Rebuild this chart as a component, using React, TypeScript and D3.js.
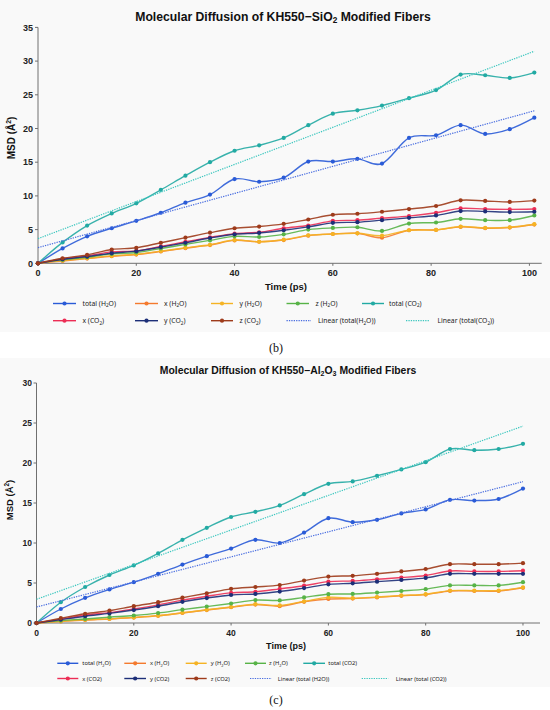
import { useEffect } from "react";
import * as d3 from "d3";

// (b) KH550-SiO2
const timeB = [0, 5, 10, 15, 20, 25, 30, 35, 40, 45, 50, 55, 60, 65, 70, 75.5, 81, 86, 91, 96, 101];
const totalH2OB = [0, 2.2, 4.0, 5.2, 6.3, 7.5, 9.0, 10.2, 12.5, 12.1, 12.7, 15.1, 15.1, 15.5, 14.8, 18.6, 19.0, 20.5, 19.2, 19.9, 21.6];
const xH2OB = [0, 0.35, 0.7, 1.05, 1.3, 1.75, 2.25, 2.7, 3.4, 3.2, 3.45, 4.1, 4.35, 4.45, 3.8, 4.9, 4.95, 5.4, 5.2, 5.3, 5.75];
const yH2OB = [0, 0.4, 0.75, 1.1, 1.35, 1.8, 2.3, 2.75, 3.45, 3.2, 3.5, 4.15, 4.35, 4.45, 4.1, 4.9, 4.95, 5.45, 5.25, 5.35, 5.8];
const zH2OB = [0, 0.5, 0.9, 1.4, 1.6, 2.2, 2.8, 3.4, 4.0, 3.9, 4.3, 5.0, 5.25, 5.35, 4.8, 5.9, 6.05, 6.6, 6.4, 6.4, 7.1];
const totalCO2B = [0, 3.1, 5.6, 7.4, 8.9, 10.9, 13.0, 15.0, 16.7, 17.5, 18.6, 20.5, 22.2, 22.7, 23.4, 24.5, 25.7, 28.0, 27.9, 27.5, 28.3];
const xCO2B = [0, 0.65, 1.1, 1.7, 1.85, 2.5, 3.2, 3.85, 4.4, 4.6, 5.2, 5.6, 6.3, 6.4, 6.7, 7.0, 7.5, 8.15, 8.05, 8.0, 8.05];
const yCO2B = [0, 0.6, 1.0, 1.5, 1.8, 2.4, 3.05, 3.75, 4.3, 4.5, 4.9, 5.4, 6.0, 6.1, 6.4, 6.75, 7.1, 7.75, 7.7, 7.6, 7.65];
const zCO2B = [0, 0.75, 1.25, 2.05, 2.3, 3.05, 3.8, 4.55, 5.2, 5.45, 5.85, 6.5, 7.2, 7.35, 7.65, 8.05, 8.5, 9.35, 9.25, 9.1, 9.3];

// (c) KH550-Al2O3
const timeC = [0, 5, 10, 15, 20, 25, 30, 35, 40, 45, 50, 55, 60, 65, 70, 75, 80, 85, 90, 95, 100];
const totalH2OC = [0, 1.75, 3.15, 4.2, 5.1, 6.15, 7.3, 8.35, 9.3, 10.4, 10.0, 11.3, 13.1, 12.6, 12.9, 13.7, 14.2, 15.4, 15.3, 15.5, 16.8];
const xH2OC = [0, 0.2, 0.38, 0.5, 0.68, 0.9, 1.25, 1.62, 1.97, 2.3, 2.1, 2.65, 3.0, 3.05, 3.2, 3.4, 3.55, 4.0, 4.0, 4.0, 4.4];
const yH2OC = [0, 0.22, 0.4, 0.52, 0.7, 0.92, 1.28, 1.65, 2.0, 2.35, 2.2, 2.7, 3.2, 3.1, 3.25, 3.45, 3.6, 4.05, 4.05, 4.05, 4.45];
const zH2OC = [0, 0.3, 0.5, 0.73, 0.94, 1.24, 1.67, 2.05, 2.44, 2.86, 2.82, 3.2, 3.6, 3.63, 3.8, 4.0, 4.23, 4.7, 4.7, 4.7, 5.1];
const totalCO2C = [0, 2.6, 4.5, 6.0, 7.2, 8.7, 10.4, 11.9, 13.25, 13.9, 14.7, 16.1, 17.4, 17.7, 18.4, 19.2, 20.1, 21.75, 21.6, 21.75, 22.4];
const xCO2C = [0, 0.47, 1.0, 1.3, 1.75, 2.26, 2.86, 3.33, 3.76, 3.9, 4.27, 4.66, 5.17, 5.26, 5.47, 5.68, 5.94, 6.5, 6.45, 6.45, 6.54];
const yCO2C = [0, 0.43, 0.85, 1.2, 1.62, 2.1, 2.65, 3.12, 3.5, 3.63, 3.93, 4.36, 4.83, 4.96, 5.17, 5.38, 5.64, 6.15, 6.15, 6.15, 6.15];
const zCO2C = [0, 0.6, 1.15, 1.54, 2.1, 2.6, 3.16, 3.72, 4.27, 4.5, 4.74, 5.3, 5.8, 5.9, 6.15, 6.45, 6.75, 7.35, 7.35, 7.35, 7.48];

const xTicks = [0, 20, 40, 60, 80, 100];
const yTicksB = [0, 5, 10, 15, 20, 25, 30, 35];
const yTicksC = [0, 5, 10, 15, 20, 25, 30];

const legendB = [
  "total (H_2O)", "x (H_2O)", "y (H_2O)", "z (H_2O)", "total  (CO_2)",
  "x (CO_2)", "y (CO_2)", "z (CO_2)", "Linear (total(H_2O))", "Linear (total(CO_2))",
];
const legendC = [
  "total (H_2O)", "x (H_2O)", "y (H_2O)", "z (H_2O)", "total (CO2)",
  "x (CO2)", "y (CO2)", "z (CO2)", "Linear (total (H2O))", "Linear (total (CO2))",
];

const colors = ["#2a5bd7", "#f47a2e", "#f5b324", "#57b347", "#22aaa3", "#ec2d55", "#1d2f78", "#9e3b1b"];
const trendColors = ["#4a6ee0", "#3cc7bf"];

const SANS = "'Liberation Sans', Arial, sans-serif";
const LEG = "'Noto Sans', 'Open Sans', sans-serif";

// text with _2 (sub) and ^2 (sup) markup
function rich(s: string, size: number) {
  const out: any[] = [];
  const re = /([_^])(\d)/g;
  let last = 0;
  let k = 0;
  let pending = 0;
  let m: RegExpExecArray | null;
  while ((m = re.exec(s))) {
    if (m.index > last) {
      out.push(<tspan key={k++} dy={pending || undefined}>{s.slice(last, m.index)}</tspan>);
      pending = 0;
    }
    const shift = m[1] === "_" ? size * 0.22 : -size * 0.4;
    out.push(<tspan key={k++} fontSize={size * 0.68} dy={shift + pending}>{m[2]}</tspan>);
    pending = -shift;
    last = m.index + 2;
  }
  if (last < s.length) out.push(<tspan key={k++} dy={pending || undefined}>{s.slice(last)}</tspan>);
  return out;
}

function fit(t: number[], v: number[]) {
  const mt = d3.mean(t)!;
  const mv = d3.mean(v)!;
  const b = d3.sum(t.map((ti, i) => (ti - mt) * (v[i] - mv))) / d3.sum(t.map((ti) => (ti - mt) ** 2));
  return [mv - b * mt, b];
}

interface Layout {
  x0: number; x1: number; xMax: number;
  yBase: number; yTop: number; yMax: number; yTicks: number[];
  title: string; titleX: number; titleY: number; titleSize: number;
  tickSize: number; tickRight: number; xTickY: number;
  xLabelX: number; xLabelY: number; xLabelSize: number;
  yLabelX: number; yLabelY: number; yLabelSize: number;
  rows: number[]; cols: number[][]; legSize: number;
  caption: string; captionY: number; panel: number[];
}

const layoutB: Layout = {
  x0: 38, x1: 541.7, xMax: 102.5,
  yBase: 263.3, yTop: 27.4, yMax: 35, yTicks: yTicksB,
  title: "Molecular Diffusion of KH550\u2212SiO_2 Modified Fibers", titleX: 283, titleY: 20.5, titleSize: 12.2,
  tickSize: 9, tickRight: 33, xTickY: 276,
  xLabelX: 286, xLabelY: 289.5, xLabelSize: 9.5,
  yLabelX: 15, yLabelY: 138, yLabelSize: 10,
  rows: [303.5, 320.7],
  cols: [
    [53, 76, 82.5], [135, 158, 164], [211, 233, 239.5], [286.5, 309, 315.5], [362, 384, 389],
    [53, 76, 82.5], [135, 158, 164], [211, 233, 239.5], [286.5, 311, 318], [406, 430, 437.5],
  ],
  legSize: 6.8,
  caption: "(b)", captionY: 351.5, panel: [0, 332],
};

const layoutC: Layout = {
  x0: 36.5, x1: 540, xMax: 103.5,
  yBase: 623, yTop: 383, yMax: 30, yTicks: yTicksC,
  title: "Molecular Diffusion of KH550\u2212Al_2O_3 Modified Fibers", titleX: 288, titleY: 373.5, titleSize: 10.4,
  tickSize: 8.5, tickRight: 32, xTickY: 636,
  xLabelX: 286, xLabelY: 648.5, xLabelSize: 9,
  yLabelX: 13, yLabelY: 500, yLabelSize: 9.5,
  rows: [663.3, 678.5],
  cols: [
    [57.3, 78.3, 82.3], [124.3, 146, 150], [185.7, 206.7, 210.7], [245, 266, 269], [303.3, 325, 328.3],
    [57.3, 78.3, 82.3], [124.3, 146, 150], [185.7, 206.7, 210.7], [250, 271.7, 277.7], [361.7, 388.3, 395.7],
  ],
  legSize: 5.8,
  caption: "(c)", captionY: 704, panel: [358, 687],
};

function Panel({ L, times, series, labels }: { L: Layout; times: number[]; series: number[][]; labels: string[] }) {
  const x = d3.scaleLinear().domain([0, L.xMax]).range([L.x0, L.x1]);
  const y = d3.scaleLinear().domain([0, L.yMax]).range([L.yBase, L.yTop]);
  const line = d3
    .line<number>()
    .x((_, i) => x(times[i]))
    .y((d) => y(d))
    .curve(d3.curveCatmullRom.alpha(0));
  const tEnd = times[times.length - 1];
  const trends = [series[0], series[4]].map((v) => {
    const [a, b] = fit(times, v);
    return d3.line<number>().x((t) => x(t)).y((t) => y(a + b * t))([0, tEnd]) as string;
  });

  return (
    <g>
      <rect x={0} y={L.panel[0]} width={550} height={L.panel[1] - L.panel[0]} fill="#f9f9f9" />
      <text x={L.titleX} y={L.titleY} textAnchor="middle" fontFamily={SANS} fontWeight="bold" fontSize={L.titleSize} fill="#111">
        {rich(L.title, L.titleSize)}
      </text>

      {/* axes */}
      <line x1={x(0)} x2={x(0)} y1={y(L.yMax)} y2={y(0)} stroke="#707070" strokeWidth={1} />
      <line x1={x(0)} x2={x(L.xMax)} y1={y(0)} y2={y(0)} stroke="#707070" strokeWidth={1} />
      {L.yTicks.map((t) => (
        <g key={"y" + t}>
          <line x1={x(0) - 3} x2={x(0)} y1={y(t)} y2={y(t)} stroke="#707070" />
          <text x={L.tickRight} y={y(t) + L.tickSize * 0.36} textAnchor="end" fontFamily={SANS} fontWeight="bold" fontSize={L.tickSize} fill="#222">
            {t}
          </text>
        </g>
      ))}
      {xTicks.map((t) => (
        <g key={"x" + t}>
          <line x1={x(t)} x2={x(t)} y1={y(0)} y2={y(0) + 2.5} stroke="#707070" />
          <text x={x(t)} y={L.xTickY} textAnchor="middle" fontFamily={SANS} fontWeight="bold" fontSize={L.tickSize} fill="#222">
            {t}
          </text>
        </g>
      ))}
      <text x={L.xLabelX} y={L.xLabelY} textAnchor="middle" fontFamily={SANS} fontWeight="bold" fontSize={L.xLabelSize} fill="#111">
        Time (ps)
      </text>
      <text
        transform={`translate(${L.yLabelX},${L.yLabelY}) rotate(-90)`}
        textAnchor="middle"
        fontFamily={SANS}
        fontWeight="bold"
        fontSize={L.yLabelSize}
        fill="#111"
      >
        {rich("MSD (\u00c5^2)", L.yLabelSize)}
      </text>

      {/* series */}
      {series.map((vals, si) => (
        <g key={"s" + si}>
          <path d={line(vals) as string} fill="none" stroke={colors[si]} strokeWidth={1.4} strokeOpacity={0.9} />
          {vals.map((v, i) => (
            <circle key={i} cx={x(times[i])} cy={y(v)} r={2.1} fill={colors[si]} />
          ))}
        </g>
      ))}
      {trends.map((d, i) => (
        <path key={"t" + i} d={d} fill="none" stroke={trendColors[i]} strokeWidth={1.2} strokeDasharray="1.3 1.1" />
      ))}

      {/* legend */}
      {labels.map((lab, i) => {
        const [lx0, lx1, tx] = L.cols[i];
        const ly = L.rows[i < 5 ? 0 : 1];
        const trend = i >= 8;
        const c = trend ? trendColors[i - 8] : colors[i];
        return (
          <g key={"l" + i}>
            <line x1={lx0} x2={lx1} y1={ly} y2={ly} stroke={c} strokeWidth={trend ? 1.2 : 1.4} strokeDasharray={trend ? "1.3 1.1" : undefined} />
            {!trend && <circle cx={(lx0 + lx1) / 2} cy={ly} r={2.1} fill={c} />}
            <text x={tx} y={ly + L.legSize * 0.35} fontFamily={LEG} fontSize={L.legSize} fill="#222">
              {rich(lab, L.legSize)}
            </text>
          </g>
        );
      })}

      <text x={276} y={L.captionY} textAnchor="middle" fontFamily="'Liberation Serif', 'DejaVu Serif', serif" fontSize={12} fill="#111">
        {L.caption}
      </text>
    </g>
  );
}

export default function App() {
  useEffect(() => {
    document.body.style.margin = "0";
  }, []);
  return (
    <svg width={550} height={710} style={{ display: "block", background: "#fff" }}>
      <Panel
        L={layoutB}
        times={timeB}
        series={[totalH2OB, xH2OB, yH2OB, zH2OB, totalCO2B, xCO2B, yCO2B, zCO2B]}
        labels={legendB}
      />
      <Panel
        L={layoutC}
        times={timeC}
        series={[totalH2OC, xH2OC, yH2OC, zH2OC, totalCO2C, xCO2C, yCO2C, zCO2C]}
        labels={legendC}
      />
    </svg>
  );
}
